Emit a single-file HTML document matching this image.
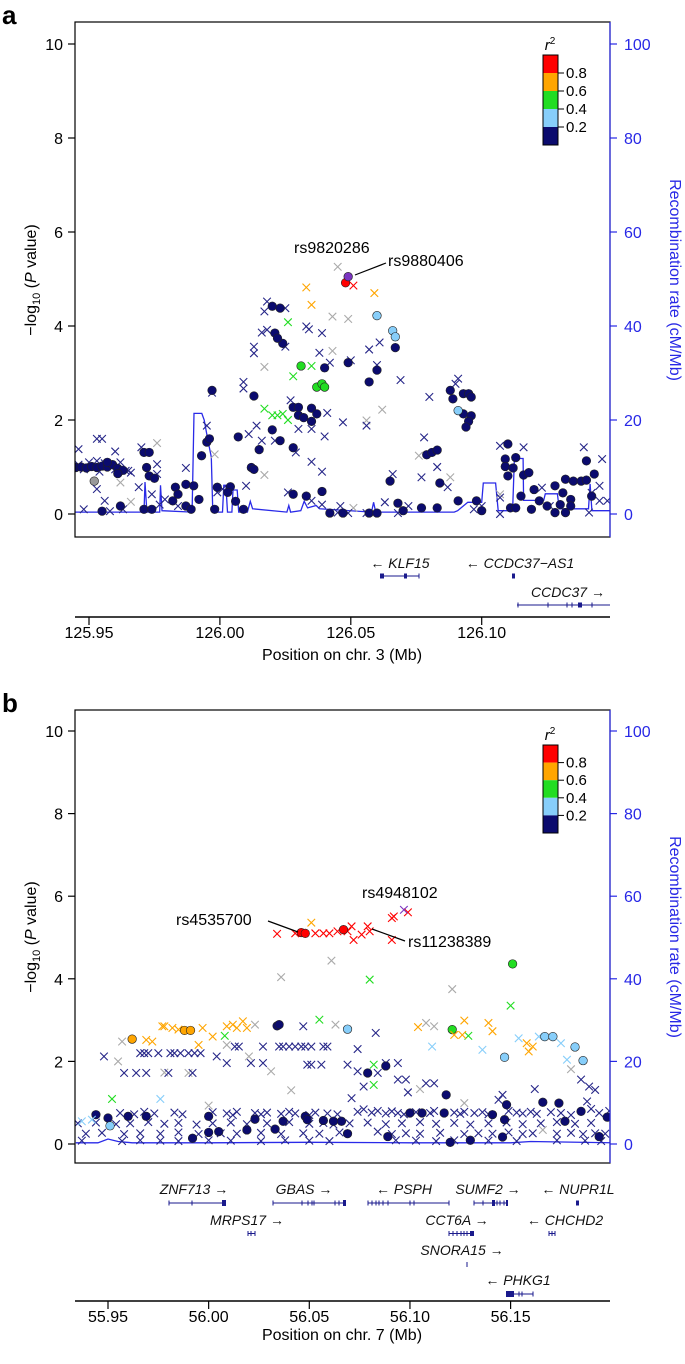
<!DOCTYPE html>
<html><head><meta charset="utf-8">
<style>
html,body{margin:0;padding:0;background:#fff;}
svg{display:block;font-family:"Liberation Sans",Arial,sans-serif;}
</style></head>
<body>
<svg id="fig" width="685" height="1364" viewBox="0 0 685 1364" xmlns="http://www.w3.org/2000/svg">
<defs>
<clipPath id="clipA"><rect x="75" y="22" width="535" height="515"/></clipPath>
<clipPath id="clipB"><rect x="75" y="710" width="535" height="453"/></clipPath>
</defs>
<text x="2" y="24" font-size="26" font-weight="bold">a</text>
<text x="2" y="712" font-size="26" font-weight="bold">b</text>

<g id="axesA"></g>
<g id="axesB"></g>
<g id="recA" clip-path="url(#clipA)"></g>
<g id="recB" clip-path="url(#clipB)"></g>
<g id="ptsA" clip-path="url(#clipA)"></g>
<g id="ptsB" clip-path="url(#clipB)"></g>

<rect x="75" y="22" width="535" height="515" fill="none" stroke="#000" stroke-width="1.2"/>
<rect x="75" y="710" width="535" height="453" fill="none" stroke="#000" stroke-width="1.2"/>
<line x1="610" y1="22" x2="610" y2="537" stroke="#2828e6" stroke-width="1.2"/>
<line x1="610" y1="710" x2="610" y2="1163" stroke="#2828e6" stroke-width="1.2"/>

<text transform="translate(36,280) rotate(-90)" text-anchor="middle" font-size="16">−log<tspan font-size="11" dy="4">10</tspan><tspan dy="-4"> (</tspan><tspan font-style="italic">P</tspan> value)</text>
<text transform="translate(36,937) rotate(-90)" text-anchor="middle" font-size="16">−log<tspan font-size="11" dy="4">10</tspan><tspan dy="-4"> (</tspan><tspan font-style="italic">P</tspan> value)</text>
<text transform="translate(670,280) rotate(90)" text-anchor="middle" font-size="16" fill="#2828e6">Recombination rate (cM/Mb)</text>
<text transform="translate(670,937) rotate(90)" text-anchor="middle" font-size="16" fill="#2828e6">Recombination rate (cM/Mb)</text>

<g>
<text x="294" y="253" font-size="16">rs9820286</text>
<text x="388" y="266" font-size="16">rs9880406</text>
<line x1="355" y1="275" x2="386" y2="263" stroke="#000" stroke-width="1.2"/>
</g>
<g>
<text x="362" y="898" font-size="16">rs4948102</text>
<text x="176" y="925" font-size="16">rs4535700</text>
<line x1="268" y1="921" x2="298" y2="932" stroke="#000" stroke-width="1.2"/>
<text x="408" y="947" font-size="16">rs11238389</text>
<line x1="372" y1="929" x2="405" y2="941" stroke="#000" stroke-width="1.2"/>
</g>

<g fill="#1a1a8c" stroke="#1a1a8c">
 <g>
  <text x="400" y="568" font-size="14" font-style="italic" fill="#111" stroke="none" text-anchor="middle">← KLF15</text>
  <line x1="382" y1="576" x2="419" y2="576" stroke-width="1"/>
  <rect x="380" y="573.5" width="4" height="5" stroke="none"/><rect x="404" y="573.5" width="3" height="5" stroke="none"/>
  <line x1="419" y1="573.5" x2="419" y2="578.5" stroke-width="1"/>
 </g>
 <g>
  <text x="520" y="568" font-size="14" font-style="italic" fill="#111" stroke="none" text-anchor="middle">← CCDC37−AS1</text>
  <rect x="512" y="573.5" width="3" height="5" stroke="none"/>
 </g>
 <g>
  <text x="568" y="597" font-size="14" font-style="italic" fill="#111" stroke="none" text-anchor="middle">CCDC37 →</text>
  <line x1="517" y1="605" x2="610" y2="605" stroke-width="1"/>
  <line x1="518" y1="602.5" x2="518" y2="607.5"/><line x1="548" y1="602.5" x2="548" y2="607.5"/><line x1="567" y1="602.5" x2="567" y2="607.5"/><line x1="572" y1="602.5" x2="572" y2="607.5"/>
  <rect x="578" y="602.5" width="4" height="5" stroke="none"/><line x1="592" y1="602.5" x2="592" y2="607.5"/>
 </g>
</g>

<g fill="#1a1a8c" stroke="#1a1a8c">
 <g>
  <text x="194" y="1194" font-size="14" font-style="italic" fill="#111" stroke="none" text-anchor="middle">ZNF713 →</text>
  <line x1="169" y1="1203" x2="226" y2="1203" stroke-width="1"/>
  <line x1="169" y1="1200.5" x2="169" y2="1205.5"/><line x1="192" y1="1200.5" x2="192" y2="1205.5"/><rect x="222" y="1200" width="4" height="6" stroke="none"/>
 </g>
 <g>
  <text x="304" y="1194" font-size="14" font-style="italic" fill="#111" stroke="none" text-anchor="middle">GBAS →</text>
  <line x1="273" y1="1203" x2="346" y2="1203" stroke-width="1"/>
  <line x1="273" y1="1200.5" x2="273" y2="1205.5"/><line x1="302" y1="1200.5" x2="302" y2="1205.5"/><line x1="308" y1="1200.5" x2="308" y2="1205.5"/><line x1="312" y1="1200.5" x2="312" y2="1205.5"/><line x1="314" y1="1200.5" x2="314" y2="1205.5"/><line x1="335" y1="1200.5" x2="335" y2="1205.5"/><line x1="339" y1="1200.5" x2="339" y2="1205.5"/><rect x="343" y="1200" width="3" height="6" stroke="none"/>
 </g>
 <g>
  <text x="404" y="1194" font-size="14" font-style="italic" fill="#111" stroke="none" text-anchor="middle">← PSPH</text>
  <line x1="368" y1="1203" x2="449" y2="1203" stroke-width="1"/>
  <line x1="368" y1="1200.5" x2="368" y2="1205.5"/><line x1="372" y1="1200.5" x2="372" y2="1205.5"/><line x1="376" y1="1200.5" x2="376" y2="1205.5"/><line x1="379" y1="1200.5" x2="379" y2="1205.5"/><line x1="383" y1="1200.5" x2="383" y2="1205.5"/><line x1="388" y1="1200.5" x2="388" y2="1205.5"/><line x1="410" y1="1200.5" x2="410" y2="1205.5"/><line x1="414" y1="1200.5" x2="414" y2="1205.5"/><line x1="449" y1="1200.5" x2="449" y2="1205.5"/>
 </g>
 <g>
  <text x="488" y="1194" font-size="14" font-style="italic" fill="#111" stroke="none" text-anchor="middle">SUMF2 →</text>
  <line x1="474" y1="1203" x2="508" y2="1203" stroke-width="1"/>
  <line x1="474" y1="1200.5" x2="474" y2="1205.5"/><line x1="483" y1="1200.5" x2="483" y2="1205.5"/><rect x="492" y="1200" width="3" height="6" stroke="none"/><line x1="497" y1="1200.5" x2="497" y2="1205.5"/><line x1="500" y1="1200.5" x2="500" y2="1205.5"/><line x1="504" y1="1200.5" x2="504" y2="1205.5"/><rect x="506" y="1200" width="2" height="6" stroke="none"/>
 </g>
 <g>
  <text x="578" y="1194" font-size="14" font-style="italic" fill="#111" stroke="none" text-anchor="middle">← NUPR1L</text>
  <rect x="576" y="1200.5" width="3" height="5" stroke="none"/>
 </g>
 <g>
  <text x="247" y="1225" font-size="14" font-style="italic" fill="#111" stroke="none" text-anchor="middle">MRPS17 →</text>
  <line x1="248" y1="1231" x2="248" y2="1236"/><line x1="251" y1="1231" x2="251" y2="1236"/><line x1="255" y1="1231" x2="255" y2="1236"/><line x1="248" y1="1233.5" x2="255" y2="1233.5"/>
 </g>
 <g>
  <text x="457" y="1225" font-size="14" font-style="italic" fill="#111" stroke="none" text-anchor="middle">CCT6A →</text>
  <line x1="449" y1="1233.5" x2="474" y2="1233.5" stroke-width="1"/>
  <line x1="449" y1="1231" x2="449" y2="1236"/><line x1="453" y1="1231" x2="453" y2="1236"/><line x1="457" y1="1231" x2="457" y2="1236"/><line x1="461" y1="1231" x2="461" y2="1236"/><line x1="464" y1="1231" x2="464" y2="1236"/><line x1="467" y1="1231" x2="467" y2="1236"/><rect x="470" y="1231" width="4" height="5" stroke="none"/>
 </g>
 <g>
  <text x="565" y="1225" font-size="14" font-style="italic" fill="#111" stroke="none" text-anchor="middle">← CHCHD2</text>
  <line x1="549" y1="1233.5" x2="555" y2="1233.5"/><line x1="549" y1="1231" x2="549" y2="1236"/><line x1="552" y1="1231" x2="552" y2="1236"/><line x1="555" y1="1231" x2="555" y2="1236"/>
 </g>
 <g>
  <text x="462" y="1255" font-size="14" font-style="italic" fill="#111" stroke="none" text-anchor="middle">SNORA15 →</text>
  <line x1="467" y1="1262" x2="467" y2="1267"/>
 </g>
 <g>
  <text x="518" y="1285" font-size="14" font-style="italic" fill="#111" stroke="none" text-anchor="middle">← PHKG1</text>
  <line x1="506" y1="1294" x2="533" y2="1294" stroke-width="1"/>
  <rect x="506" y="1291" width="8" height="6" stroke="none"/><line x1="519" y1="1291.5" x2="519" y2="1296.5"/><line x1="522" y1="1291.5" x2="522" y2="1296.5"/><line x1="533" y1="1291.5" x2="533" y2="1296.5"/>
 </g>
</g>

<g id="xaxisA"></g>
<g id="xaxisB"></g>
<text x="342" y="660" text-anchor="middle" font-size="16">Position on chr. 3 (Mb)</text>
<text x="342" y="1340" text-anchor="middle" font-size="16">Position on chr. 7 (Mb)</text>

<g id="legendA"></g>
<g id="legendB"></g>
</svg>

<script>
// ================= DATA =================
const aXTicks = [125.95, 126.00, 126.05, 126.10];
const aXTickLabels = ["125.95", "126.00", "126.05", "126.10"];
const yTicks = [0, 2, 4, 6, 8, 10];
const rateTicks = [0, 20, 40, 60, 80, 100];
const legendBreaks = ["0.8", "0.6", "0.4", "0.2"];

const aNavyCircles = [[125.945,0.99],[125.947,1.0],[125.949,0.98],[125.951,1.01],[125.953,0.99],[125.955,1.02],[125.957,1.0],[125.959,1.05],[125.961,0.97],[125.963,0.93],
[126.020,4.42],[126.023,4.38],[126.021,3.85],[126.024,3.63],[126.022,3.74],[125.997,2.63],[126.013,2.51],[126.028,2.27],[126.030,2.27],[126.035,2.25],[126.030,2.1],[126.032,2.05],[126.037,2.13],[126.035,1.97],
[126.040,3.11],[126.049,3.22],[126.060,3.06],[126.057,2.81],[126.067,3.54],[126.088,2.63],[126.089,2.45],[126.093,2.56],[126.095,2.56],[126.096,2.49],[126.093,2.13],[126.096,2.09],[126.095,1.97],[126.094,1.85],
[126.020,1.79],[126.023,1.56],[126.007,1.64],[125.995,1.53],[125.996,1.6],[125.993,1.24],[126.015,1.37],[126.028,1.41],[126.012,0.99],[126.013,0.95],[125.971,1.31],[125.973,1.31],[125.972,0.99],[125.973,0.81],[125.975,0.76],[125.961,0.86],[125.957,1.1],
[125.983,0.57],[125.984,0.42],[125.987,0.63],[125.990,0.6],[125.982,0.28],[125.987,0.17],[125.989,0.1],[125.992,0.31],[125.999,0.57],[126.004,0.58],[126.003,0.46],[126.006,0.27],[126.009,0.1],[125.998,0.1],[125.962,0.17],[125.955,0.06],[125.971,0.1],[125.974,0.1],
[126.028,0.42],[126.033,0.38],[126.039,0.48],[126.042,0.02],[126.047,0.02],[126.057,0.02],[126.060,0.02],[126.065,0.7],[126.068,0.23],[126.070,0.07],[126.077,0.13],[126.083,0.13],[126.084,0.66],[126.079,1.26],[126.081,1.31],[126.083,1.36],
[126.091,0.28],[126.098,0.28],[126.100,0.07],[126.110,1.49],[126.109,1.17],[126.113,1.2],[126.109,1.01],[126.112,0.98],[126.110,0.81],[126.116,0.83],[126.118,0.88],[126.115,0.38],[126.111,0.13],[126.113,0.13],[126.119,0.1],[126.120,0.52],[126.122,0.28],
[126.128,0.6],[126.132,0.74],[126.135,0.7],[126.138,0.7],[126.140,0.72],[126.140,1.13],[126.143,0.85],[126.131,0.45],[126.134,0.31],[126.130,0.2],[126.128,0.03],[126.132,0.03],[126.134,0.17],[126.142,0.38],[126.125,0.17]];
const aNavyCrosses = [[125.946,1.05],[125.948,0.95],[125.950,1.1],[125.952,1.0],[125.954,0.9],[125.956,1.08],[125.958,1.02],[125.960,0.95],[125.962,1.1],[125.964,0.92],[125.966,0.88],
[126.018,4.52],[126.017,4.31],[126.025,4.38],[126.016,3.86],[126.018,3.92],[126.025,3.56],[126.033,3.99],[126.034,3.93],[126.039,3.85],[126.013,3.56],[126.013,3.42],[126.038,3.43],[126.042,3.22],[126.050,3.27],[126.057,3.5],[126.061,3.65],[126.060,3.17],[126.069,2.85],
[126.009,2.81],[126.009,2.67],[125.997,2.58],[126.027,2.42],[126.041,2.15],[126.047,1.95],[126.056,1.88],[126.030,1.81],[126.035,1.81],[126.014,1.88],[126.011,1.7],[126.016,1.56],[126.021,1.56],[126.040,1.65],[125.995,1.88],[126.035,1.11],[126.039,0.9],[126.029,1.31],
[126.080,2.49],[126.091,2.88],[126.090,2.77],[126.078,1.63],[126.083,1.0],[126.077,0.78],[126.087,0.57],[126.066,0.85],[126.063,0.25],[126.072,0.17],[126.107,1.45],[126.116,1.42],[126.107,0.35],[126.139,1.42],[126.146,1.17],[126.145,0.6],[126.148,0.28],[126.107,0.0],[126.141,0.03],
[125.946,1.38],[125.953,1.6],[125.955,1.6],[125.960,1.33],[125.965,0.92],[125.953,1.13],[125.953,0.53],[125.948,0.1],[125.956,0.28],[125.976,1.06],[125.976,0.85],[125.970,1.42],[125.969,0.57],[125.974,0.42],[125.977,0.2],[125.987,0.98],[125.979,0.31],[125.984,0.17],
[125.999,0.46],[126.001,0.53],[126.010,0.6],[126.026,0.46],[126.035,0.28],[126.039,0.2],[126.046,0.17],[126.045,0.03],[126.049,0.02],[126.056,0.02],[126.068,0.02],[125.963,0.1],[125.958,0.06],[126.126,0.17],[126.100,0.17],[126.097,0.1],[126.123,0.56],[126.142,0.45],[126.145,0.28]];
const aGrayCrosses = [[126.045,5.26],[126.043,4.2],[126.049,4.15],[126.017,3.13],[126.043,3.47],[126.062,2.22],[126.056,1.99],[125.976,1.51],[125.998,1.27],[126.017,0.83],[125.962,0.67],[125.966,0.26],[126.051,0.13],[126.076,1.24],[126.088,0.78],[126.107,0.42]];
const aGrayCircles = [[125.952,0.7]];
const aLightBlueCircles = [[126.060,4.22],[126.066,3.9],[126.067,3.77],[126.091,2.2]];
const aGreenCrosses = [[126.026,4.08],[126.035,3.15],[126.028,2.93],[126.017,2.24],[126.020,2.1],[126.022,2.1],[126.024,2.13],[126.026,2.0]];
const aGreenCircles = [[126.031,3.15],[126.037,2.7],[126.039,2.77],[126.040,2.7]];
const aOrangeCrosses = [[126.033,4.82],[126.035,4.45],[126.059,4.7]];
const aRedCrosses = [[126.051,4.86]];
const aRedCircles = [[126.048,4.92]];
const aPurpleCircles = [[126.049,5.05]];
const aRecPos = [125.9447,125.971,125.9714,125.9721,125.977,125.9773,125.9779,125.9894,125.9901,125.9931,125.994,125.9954,125.9967,125.9973,126.001,126.0015,126.0023,126.0029,126.0046,126.005,126.0066,126.0072,126.0105,126.0116,126.0125,126.0256,126.0263,126.027,126.0309,126.0322,126.0335,126.0368,126.0381,126.0579,126.0587,126.0595,126.0895,126.0908,126.0947,126.1,126.1006,126.1053,126.1063,126.1118,126.1125,126.1158,126.116,126.1237,126.1243,126.1289,126.1296,126.1408,126.1414,126.1421,126.151];
const aRecRate = [0.4,0.4,6.8,0.4, 0.4,6.1,0.7, 0.4,21.4,21.4,20,15.7,12.1,0.4, 0.4,6.1,6.1,0.4, 0.4,5.1,5.1,0.4, 0.4,2.7,1.1, 0.4,1.8,0.4, 0.7,2.7,1.3,1.8,1.1, 0.4,2.5,0.4, 0.4,0.7,2.5,2.5,6.6,6.6,0.7,0.7,11.8,11.8,2.9,2.9,4.3,4.3,1.1,1.1,6.4,0.7,0.7];

const bXTicks = [55.95, 56.00, 56.05, 56.10, 56.15];
const bXTickLabels = ["55.95", "56.00", "56.05", "56.10", "56.15"];
const bRedCircles = [[56.046,5.12],[56.048,5.1],[56.067,5.19]];
const bRedCrosses = [[56.034,5.09],[56.043,5.1],[56.053,5.1],[56.057,5.1],[56.060,5.1],[56.064,5.15],[56.069,5.15],[56.071,5.27],[56.072,4.94],[56.076,5.07],[56.079,5.27],[56.080,5.15],[56.091,4.94],[56.091,5.47],[56.092,5.51],[56.099,5.61]];
const bPurpleCrosses = [[56.097,5.67]];
const bOrangeCircles = [[55.962,2.54],[55.988,2.75],[55.991,2.75]];
const bOrangeCrosses = [[56.051,5.36],[55.977,2.85],[55.978,2.85],[55.982,2.81],[55.985,2.77],[55.972,2.48],[55.969,2.52],[55.997,2.81],[56.002,2.6],[55.995,2.4],[56.009,2.85],[56.012,2.89],[56.014,2.81],[56.017,2.97],[56.019,2.81],[56.104,2.83],[56.127,2.99],[56.122,2.64],[56.139,2.93],[56.141,2.73],[56.158,2.44],[56.161,2.36],[56.159,2.24],[56.126,2.64]];
const bGreenCircles = [[56.151,4.36],[56.121,2.77]];
const bGreenCrosses = [[56.080,3.98],[56.150,3.35],[56.055,3.01],[56.008,2.62],[56.129,2.62],[56.082,1.92],[56.082,1.43],[55.952,1.09]];
const bLightBlueCircles = [[56.069,2.78],[56.147,2.1],[56.167,2.6],[56.171,2.6],[56.182,2.35],[56.186,2.02],[55.951,0.44]];
const bLightBlueCrosses = [[56.111,2.36],[56.136,2.28],[56.154,2.56],[56.164,2.6],[56.175,2.44],[56.178,2.04],[55.976,1.09],[55.937,0.55],[55.942,0.59]];
const bGrayCrosses = [[56.061,4.44],[56.036,4.04],[56.121,3.75],[56.108,2.93],[56.112,2.85],[56.063,2.89],[56.023,2.89],[55.957,2.48],[55.955,2.0],[56.009,2.4],[56.020,2.12],[56.031,1.76],[55.978,1.73],[55.990,1.72],[56.041,1.3],[56.000,0.93],[56.127,0.99],[56.105,1.33],[56.180,1.81],[56.166,0.34]];
const bNavyCircles = [[56.034,2.86],[56.035,2.89],[56.079,1.72],[56.088,1.89],[56.118,1.19],[55.944,0.71],[55.950,0.63],[55.960,0.67],[55.969,0.67],[56.000,0.67],[56.023,0.6],[56.037,0.55],[56.048,0.67],[56.049,0.59],[56.057,0.57],[56.062,0.55],[56.066,0.55],[56.000,0.28],[56.005,0.3],[56.019,0.34],[56.033,0.36],[56.069,0.25],[55.992,0.14],[56.089,0.18],[56.100,0.75],[56.106,0.75],[56.117,0.75],[56.120,0.04],[56.130,0.09],[56.141,0.71],[56.147,0.59],[56.148,0.95],[56.146,0.17],[56.166,1.01],[56.174,0.99],[56.177,0.55],[56.185,0.79],[56.194,0.18],[56.198,0.65]];
const bNavyCrosses = [
[55.966,2.2],[55.968,2.2],[55.970,2.2],[55.975,2.2],[55.981,2.2],[55.983,2.2],[55.986,2.2],[55.990,2.2],[55.993,2.2],[55.996,2.2],
[56.013,2.36],[56.015,2.36],[56.027,2.36],[56.035,2.36],[56.037,2.36],[56.040,2.36],[56.043,2.36],[56.046,2.36],[56.048,2.36],[56.051,2.36],[56.057,2.36],[56.059,2.36],[56.074,2.3],
[56.047,2.85],[56.083,2.69],
[55.948,2.12],[56.004,2.12],[56.009,1.96],[56.021,1.96],[56.027,1.96],[56.049,1.92],[56.051,1.92],[56.056,1.92],[56.069,1.92],[56.094,1.96],[56.088,1.96],
[55.958,1.72],[55.964,1.72],[55.969,1.72],[55.980,1.72],[55.992,1.72],[56.074,1.76],[56.084,1.72],[56.094,1.56],[56.098,1.56],
[56.077,1.39],[56.108,1.47],[56.112,1.47],[56.099,1.25],[56.185,1.56],[56.189,1.39],[56.192,1.31],[56.162,1.33],[56.146,1.19],[56.144,1.07],[56.188,1.03],[56.071,1.11],
[55.956,0.75],[55.963,0.72],[55.968,0.78],[55.973,0.74],[55.983,0.76],[55.987,0.72],[56.002,0.77],[56.009,0.74],[56.012,0.7],[56.014,0.78],[56.023,0.75],[56.026,0.72],[56.029,0.76],[56.036,0.73],[56.040,0.78],[56.043,0.74],[56.050,0.7],[56.053,0.76],[56.059,0.74],[56.064,0.72],
[56.074,0.78],[56.077,0.84],[56.081,0.76],[56.084,0.8],[56.088,0.74],[56.091,0.79],[56.094,0.75],[56.097,0.72],[56.103,0.77],[56.110,0.75],[56.112,0.8],[56.122,0.76],[56.125,0.73],[56.127,0.78],[56.132,0.75],[56.136,0.77],[56.139,0.72],[56.149,0.8],[56.153,0.76],[56.156,0.74],[56.160,0.78],[56.163,0.73],[56.170,0.77],[56.175,0.75],[56.180,0.7],[56.190,0.85],[56.194,0.75],[56.199,0.8],
[55.935,0.5],[55.944,0.52],[55.954,0.48],[55.961,0.5],[55.970,0.53],[55.978,0.49],[55.985,0.51],[55.994,0.47],[56.002,0.5],[56.011,0.52],[56.019,0.48],[56.029,0.5],[56.040,0.53],[56.050,0.49],[56.057,0.51],[56.062,0.47],[56.070,0.5],[56.079,0.52],[56.088,0.48],[56.096,0.5],[56.105,0.53],[56.113,0.49],[56.122,0.51],[56.130,0.47],[56.139,0.5],[56.148,0.52],[56.156,0.48],[56.165,0.5],[56.173,0.53],[56.182,0.49],[56.190,0.51],
[55.939,0.25],[55.947,0.27],[55.958,0.24],[55.966,0.26],[55.976,0.25],[55.985,0.28],[55.995,0.24],[56.006,0.26],[56.014,0.25],[56.026,0.27],[56.036,0.24],[56.047,0.26],[56.055,0.25],[56.065,0.28],[56.084,0.3],[56.091,0.24],[56.098,0.26],[56.105,0.25],[56.115,0.27],[56.127,0.24],[56.134,0.26],[56.141,0.25],[56.149,0.28],[56.156,0.24],[56.161,0.26],[56.173,0.25],[56.180,0.27],[56.186,0.24],[56.192,0.26],[56.197,0.25],
[55.937,0.08],[55.957,0.07],[55.966,0.09],[55.976,0.08],[55.985,0.07],[56.000,0.09],[56.011,0.08],[56.026,0.07],[56.038,0.09],[56.050,0.08],[56.060,0.07],[56.093,0.09],[56.103,0.08],[56.113,0.07],[56.122,0.09],[56.139,0.08],[56.153,0.07],[56.173,0.09],[56.187,0.08],[56.195,0.07]];
const bRecPos = [55.934,55.945,55.950,55.955,55.962,56.000,56.050,56.100,56.150,56.160,56.200];
const bRecRate = [0.3,0.3,1.2,0.6,0.3,0.3,0.4,0.3,0.3,0.6,0.3];

// ================= RENDER =================
const NS = "http://www.w3.org/2000/svg";
const COL = {navy:"#0b0b6e", navyX:"#262688", lb:"#87cefa", green:"#22dd22", orange:"#ffa500", red:"#ff0000", gray:"#aaaaaa", purple:"#7b35c0"};
function mk(tag, attrs, parent){const e=document.createElementNS(NS,tag);for(const k in attrs)e.setAttribute(k,attrs[k]);parent.appendChild(e);return e;}

const panels = {
 a:{x0:89, xv0:125.95, xs:2618, y0:514, ys:47, left:75, right:610, top:22, bottom:537, axisY:617, lblY:638},
 b:{x0:108, xv0:55.95, xs:2013, y0:1144, ys:41.3, left:75, right:610, top:710, bottom:1163, axisY:1301, lblY:1322}
};
function sx(P,p){return P.x0+(p-P.xv0)*P.xs;}
function sy(P,v){return P.y0-v*P.ys;}
function sr(P,r){return P.y0-(r/10)*P.ys;}

function drawAxes(P, g){
 yTicks.forEach(t=>{
  const y=sy(P,t);
  const l=mk("line",{x1:P.left-7,y1:y,x2:P.left,y2:y,stroke:"#000","stroke-width":1.2},g);
  
  
  const tx=mk("text",{x:P.left-12,y:y+6,"text-anchor":"end","font-size":16},g);
  
  
  tx.textContent=String(t);
 });
 rateTicks.forEach(t=>{
  const y=sr(P,t);
  const l=mk("line",{x1:P.right,y1:y,x2:P.right+7,y2:y,stroke:"#2828e6","stroke-width":1.2},g);
  
  
  const tx=mk("text",{x:P.right+14,y:y+6,"text-anchor":"start","font-size":16,fill:"#2828e6"},g);
  
  
  tx.textContent=String(t);
 });
}
function drawXAxis(P, g, ticks, labels){
 const ax=mk("line",{x1:P.left,y1:P.axisY,x2:P.right,y2:P.axisY,stroke:"#000","stroke-width":1.5},g);
 
 
 ticks.forEach((t,i)=>{
  const x=sx(P,t);
  const l=mk("line",{x1:x,y1:P.axisY,x2:x,y2:P.axisY+8,stroke:"#000","stroke-width":1.2},g);
  
  
  const tx=mk("text",{x:x,y:P.lblY,"text-anchor":"middle","font-size":16},g);
  
  
  tx.textContent=labels[i];
 });
}
function drawRec(P, g, pos, rate){
 const d=pos.map((p,i)=>(i?"L":"M")+sx(P,p).toFixed(1)+","+sr(P,rate[i]).toFixed(1)).join("");
 const path=mk("path",{d:d,fill:"none",stroke:"#2a2ae8","stroke-width":1.3},g);
 
 
}
function crosses(P, g, arr, color){
 arr.forEach(([p,v])=>{
  const x=sx(P,p), y=sy(P,v), s=3.8;
  const e=mk("path",{d:`M${x-s},${y-s}L${x+s},${y+s}M${x-s},${y+s}L${x+s},${y-s}`,stroke:color,"stroke-width":1.1,fill:"none"},g);
  
  
 });
}
function circles(P, g, arr, color){
 arr.forEach(([p,v])=>{
  const e=mk("circle",{cx:sx(P,p),cy:sy(P,v),r:4.3,fill:color,stroke:"#222","stroke-width":0.6},g);
  
  
 });
}
function legend(g, x, top, band){
 const title=mk("text",{x:x+7,y:top-5,"text-anchor":"middle","font-size":15,"font-style":"italic"},g);
 
 
 title.innerHTML='r<tspan font-size="10" dy="-6" font-style="normal">2</tspan>';
 const cols=[COL.red,COL.orange,COL.green,COL.lb,COL.navy];
 cols.forEach((c,i)=>{
  const r=mk("rect",{x:x,y:top+i*band,width:15,height:band,fill:c,stroke:"none"},g);
  
  
 });
 const box=mk("rect",{x:x,y:top,width:15,height:band*5,fill:"none",stroke:"#000","stroke-width":1},g);
 
 
 legendBreaks.forEach((lab,i)=>{
  const y=top+(i+1)*band;
  const l=mk("line",{x1:x+15,y1:y,x2:x+21,y2:y,stroke:"#000","stroke-width":1},g);
  
  
  const t=mk("text",{x:x+23,y:y+5,"font-size":15},g);
  
  
  t.textContent=lab;
 });
}

const A=panels.a, B=panels.b;
drawAxes(A, document.getElementById("axesA"));
drawAxes(B, document.getElementById("axesB"));
drawXAxis(A, document.getElementById("xaxisA"), aXTicks, aXTickLabels);
drawXAxis(B, document.getElementById("xaxisB"), bXTicks, bXTickLabels);
drawRec(A, document.getElementById("recA"), aRecPos, aRecRate);
drawRec(B, document.getElementById("recB"), bRecPos, bRecRate);

const gA=document.getElementById("ptsA");
crosses(A,gA,aGrayCrosses,COL.gray);
circles(A,gA,aGrayCircles,"#999");
crosses(A,gA,aNavyCrosses,COL.navyX);
circles(A,gA,aNavyCircles,COL.navy);
circles(A,gA,aLightBlueCircles,COL.lb);
crosses(A,gA,aGreenCrosses,COL.green);
circles(A,gA,aGreenCircles,COL.green);
crosses(A,gA,aOrangeCrosses,COL.orange);
crosses(A,gA,aRedCrosses,COL.red);
circles(A,gA,aRedCircles,COL.red);
circles(A,gA,aPurpleCircles,COL.purple);

const gB=document.getElementById("ptsB");
crosses(B,gB,bGrayCrosses,COL.gray);
crosses(B,gB,bNavyCrosses,COL.navyX);
circles(B,gB,bNavyCircles,COL.navy);
crosses(B,gB,bLightBlueCrosses,COL.lb);
circles(B,gB,bLightBlueCircles,COL.lb);
crosses(B,gB,bGreenCrosses,COL.green);
circles(B,gB,bGreenCircles,COL.green);
crosses(B,gB,bOrangeCrosses,COL.orange);
circles(B,gB,bOrangeCircles,COL.orange);
crosses(B,gB,bRedCrosses,COL.red);
circles(B,gB,bRedCircles,COL.red);
crosses(B,gB,bPurpleCrosses,COL.purple);

legend(document.getElementById("legendA"), 543, 55, 18);
legend(document.getElementById("legendB"), 543, 745, 17.6);
</script>
</body></html>
